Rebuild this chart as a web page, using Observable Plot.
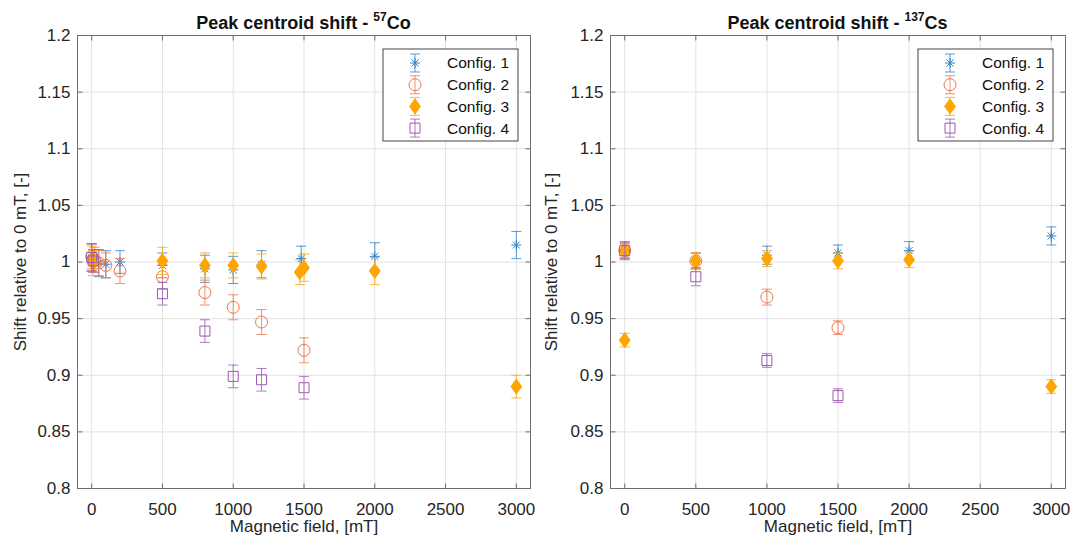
<!DOCTYPE html>
<html><head><meta charset="utf-8">
<script src="https://cdn.jsdelivr.net/npm/d3@7"></script>
<script src="https://cdn.jsdelivr.net/npm/@observablehq/plot@0.6"></script>
<style>
body{margin:0;background:#fff;}
#wrap{display:flex;width:1072px;height:547px;overflow:hidden;}
#wrap > div{width:536px;height:547px;}
</style></head><body><div id="wrap"><div id="p1"></div><div id="p2"></div></div>
<script>
// ---------- data ----------
const configs = ["Config. 1", "Config. 2", "Config. 3", "Config. 4"];
const colors = ["#2E82CA", "#EF7449", "#FFA500", "#9E58B2"];
const xTicks = [0, 500, 1000, 1500, 2000, 2500, 3000];
const yTicks = [0.8, 0.85, 0.9, 0.95, 1, 1.05, 1.1, 1.15, 1.2];
const xLabel = "Magnetic field, [mT]";
const yLabel = "Shift relative to 0 mT, [-]";

// 57Co
const co1Field = [0, 50, 100, 200, 500, 800, 1000, 1200, 1480, 2000, 3000];
const co1Shift = [1.004, 0.999, 0.998, 1.000, 0.997, 0.994, 0.993, 0.998, 1.003, 1.005, 1.015];
const co1Err   = [0.012, 0.012, 0.012, 0.010, 0.011, 0.012, 0.012, 0.012, 0.011, 0.012, 0.012];
const co2Field = [0, 20, 50, 100, 200, 500, 800, 1000, 1200, 1500];
const co2Shift = [1.005, 1.002, 0.999, 0.997, 0.992, 0.987, 0.973, 0.960, 0.947, 0.922];
const co2Err   = [0.011, 0.011, 0.011, 0.011, 0.011, 0.011, 0.011, 0.011, 0.011, 0.011];
const co3Field = [0, 10, 500, 800, 1000, 1200, 1470, 1500, 2000, 3000];
const co3Shift = [1.003, 0.999, 1.001, 0.997, 0.997, 0.996, 0.991, 0.995, 0.992, 0.890];
const co3Err   = [0.011, 0.011, 0.012, 0.011, 0.011, 0.011, 0.011, 0.012, 0.012, 0.010];
const co4Field = [0, 10, 500, 800, 1000, 1200, 1500];
const co4Shift = [1.004, 1.001, 0.972, 0.939, 0.899, 0.896, 0.889];
const co4Err   = [0.012, 0.010, 0.010, 0.010, 0.010, 0.010, 0.010];

// 137Cs
const cs1Field = [0, 500, 1000, 1500, 2000, 3000];
const cs1Shift = [1.010, 1.001, 1.006, 1.008, 1.010, 1.023];
const cs1Err   = [0.008, 0.007, 0.008, 0.007, 0.008, 0.008];
const cs2Field = [0, 500, 1000, 1500];
const cs2Shift = [1.010, 1.001, 0.969, 0.942];
const cs2Err   = [0.006, 0.007, 0.007, 0.006];
const cs3Field = [0, 0, 500, 1000, 1500, 2000, 3000];
const cs3Shift = [1.010, 0.931, 1.001, 1.003, 1.001, 1.002, 0.890];
const cs3Err   = [0.006, 0.006, 0.007, 0.007, 0.007, 0.007, 0.006];
const cs4Field = [0, 500, 1000, 1500];
const cs4Shift = [1.010, 0.987, 0.913, 0.882];
const cs4Err   = [0.007, 0.008, 0.006, 0.006];

// ---------- symbols ----------
const rad = s => Math.sqrt(s / Math.PI);
const symStar = {draw(c, s) { const r = rad(s), d = r * 0.7071;
  c.moveTo(-r, 0); c.lineTo(r, 0); c.moveTo(0, -r); c.lineTo(0, r);
  c.moveTo(-d, -d); c.lineTo(d, d); c.moveTo(-d, d); c.lineTo(d, -d); }};
const symCircle = {draw(c, s) { const r = rad(s); c.moveTo(r, 0); c.arc(0, 0, r, 0, 2 * Math.PI); }};
const symDiamond = {draw(c, s) { const r = rad(s);
  c.moveTo(0, -r); c.lineTo(0.72 * r, 0); c.lineTo(0, r); c.lineTo(-0.72 * r, 0); c.closePath(); }};
const symSquare = {draw(c, s) { const r = rad(s); c.rect(-r, -r, 2 * r, 2 * r); }};
const symCap = {draw(c, s) { const r = rad(s); c.moveTo(-r, 0); c.lineTo(r, 0); }};
const tickL = {draw(c, s) { const r = rad(s); c.moveTo(0, 0); c.lineTo(r, 0); }};
const tickR = {draw(c, s) { const r = rad(s); c.moveTo(0, 0); c.lineTo(-r, 0); }};
const tickB = {draw(c, s) { const r = rad(s); c.moveTo(0, 0); c.lineTo(0, -r); }};
const tickT = {draw(c, s) { const r = rad(s); c.moveTo(0, 0); c.lineTo(0, r); }};

const styles = [
  {symbol: symStar, r: 5, fill: "none"},
  {symbol: symCircle, r: 6, fill: "none"},
  {symbol: symDiamond, r: 7.5, fill: colors[2]},
  {symbol: symSquare, r: 5, fill: "none"}
];

function rows(field, shift, err) {
  return field.map((x, i) => ({x, y: shift[i], err: err[i]}));
}

const frameColor = "#6e6e6e";
const font = "'Liberation Sans', Arial, sans-serif";

function makeChart(series, ml, mr, ylabelDx) {
  const W = 536, H = 547, mt = 35, mb = 59;
  const marks = [
    Plot.gridX(xTicks, {stroke: "#e2e2e2", strokeOpacity: 1}),
    Plot.gridY(yTicks, {stroke: "#e2e2e2", strokeOpacity: 1})
  ];
  series.forEach((data, i) => {
    const col = colors[i], st = styles[i];
    marks.push(
      Plot.ruleX(data, {x: "x", y1: d => d.y - d.err, y2: d => d.y + d.err, stroke: col, strokeOpacity: 0.8, strokeWidth: 1}),
      Plot.dot(data, {x: "x", y: d => d.y - d.err, symbol: symCap, r: 5, stroke: col, strokeOpacity: 0.8, strokeWidth: 1}),
      Plot.dot(data, {x: "x", y: d => d.y + d.err, symbol: symCap, r: 5, stroke: col, strokeOpacity: 0.8, strokeWidth: 1}),
      Plot.dot(data, {x: "x", y: "y", symbol: st.symbol, r: st.r, fill: st.fill, stroke: col, strokeWidth: 1})
    );
  });
  marks.push(
    Plot.frame({stroke: frameColor, strokeWidth: 1}),
    Plot.dot(yTicks, {y: d => d, frameAnchor: "left", symbol: tickL, r: 5, stroke: frameColor, strokeWidth: 1}),
    Plot.dot(yTicks, {y: d => d, frameAnchor: "right", symbol: tickR, r: 5, stroke: frameColor, strokeWidth: 1}),
    Plot.dot(xTicks, {x: d => d, frameAnchor: "bottom", symbol: tickB, r: 5, stroke: frameColor, strokeWidth: 1}),
    Plot.dot(xTicks, {x: d => d, frameAnchor: "top", symbol: tickT, r: 5, stroke: frameColor, strokeWidth: 1}),
    Plot.axisX({ticks: xTicks, tickSize: 0, tickPadding: 14, label: null, tickFormat: d => String(d)}),
    Plot.axisY({ticks: yTicks, tickSize: 0, tickPadding: 7, label: null, tickFormat: d => String(+d.toFixed(2))}),
    Plot.text([xLabel], {text: d => d, frameAnchor: "bottom", lineAnchor: "middle", textAnchor: "middle", dy: 38}),
    Plot.text([yLabel], {text: d => d, frameAnchor: "left", lineAnchor: "middle", textAnchor: "middle", dx: ylabelDx, rotate: -90})
  );
  return Plot.plot({
    width: W, height: H,
    marginLeft: ml, marginRight: mr, marginTop: mt, marginBottom: mb,
    x: {domain: [-100, 3100]},
    y: {domain: [0.8, 1.2]},
    style: {fontFamily: font, fontSize: "17px", color: "#262626", background: "#fff", overflow: "visible"},
    marks
  });
}

function decorate(svg, ml, mr, titleMain, sup, elem) {
  const W = 536;
  const s = d3.select(svg);
  const cx = (ml + (W - mr)) / 2;
  const t = s.append("text")
    .attr("x", cx).attr("y", 29)
    .attr("text-anchor", "middle")
    .attr("font-family", font).attr("font-size", 18).attr("font-weight", "bold")
    .attr("fill", "#111");
  t.append("tspan").text(titleMain);
  t.append("tspan").attr("font-size", 12).attr("dy", -8).text(sup);
  t.append("tspan").attr("dy", 8).text(elem);

  // legend
  const right = W - mr - 12, bw = 135, top = 49, bh = 92;
  const left = right - bw;
  const g = s.append("g");
  g.append("rect").attr("x", left).attr("y", top).attr("width", bw).attr("height", bh)
    .attr("fill", "#fff").attr("stroke", "#444").attr("stroke-width", 1);
  configs.forEach((name, i) => {
    const yy = top + 14 + i * 21.7, mx = left + 32;
    const col = colors[i], st = styles[i];
    const e = g.append("g").attr("transform", `translate(${mx},${yy})`);
    e.append("line").attr("x1", 0).attr("x2", 0).attr("y1", -9).attr("y2", 9)
      .attr("stroke", col).attr("stroke-opacity", 0.8);
    [-9, 9].forEach(v => e.append("line").attr("x1", -5).attr("x2", 5).attr("y1", v).attr("y2", v)
      .attr("stroke", col).attr("stroke-opacity", 0.8));
    const p = d3.path();
    st.symbol.draw(p, Math.PI * st.r * st.r);
    e.append("path").attr("d", p.toString()).attr("fill", st.fill).attr("stroke", col);
    g.append("text").attr("x", mx + 32).attr("y", yy).attr("dy", "0.35em")
      .attr("text-anchor", "start")
      .attr("font-family", font).attr("font-size", 15.5).attr("fill", "#111").text(name);
  });
}

const left = makeChart([
  rows(co1Field, co1Shift, co1Err), rows(co2Field, co2Shift, co2Err),
  rows(co3Field, co3Shift, co3Err), rows(co4Field, co4Shift, co4Err)
], 77, 6, -57);
decorate(left, 77, 6, "Peak centroid shift - ", "57", "Co");
document.getElementById("p1").appendChild(left);

const right = makeChart([
  rows(cs1Field, cs1Shift, cs1Err), rows(cs2Field, cs2Shift, cs2Err),
  rows(cs3Field, cs3Shift, cs3Err), rows(cs4Field, cs4Shift, cs4Err)
], 74, 7, -59);
decorate(right, 74, 7, "Peak centroid shift - ", "137", "Cs");
document.getElementById("p2").appendChild(right);
</script>
</body></html>
